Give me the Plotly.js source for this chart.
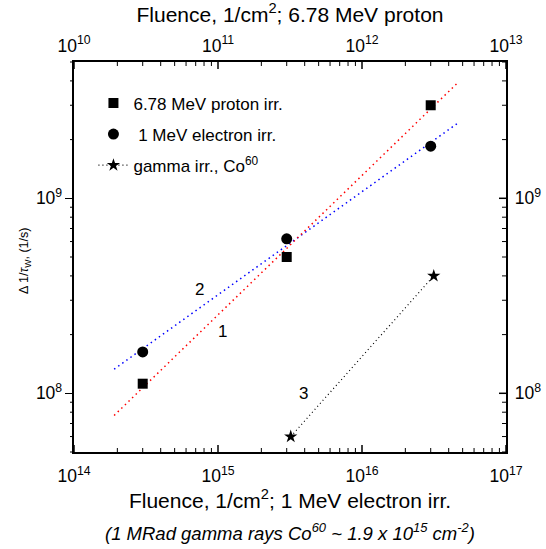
<!DOCTYPE html>
<html>
<head>
<meta charset="utf-8">
<script src="https://cdn.plot.ly/plotly-3.0.1.min.js"></script>
<style>html,body{margin:0;padding:0;background:#fff;}#chart{width:546px;height:549px;background:#fff;}</style>
</head>
<body>
<div id="chart"></div>
<script>
// ---- data ----
const protonFluence = [3e10, 3e11, 3e12];          // 1/cm^2 (top axis)
const protonRate = [1.12e8, 5.0e8, 3.0e9];          // 1/s
const electronFluence = [3e14, 3e15, 3e16];        // 1/cm^2 (bottom axis)
const electronRate = [1.63e8, 6.2e8, 1.85e9];
const gammaFluence = [3.2e15, 3.15e16];             // equivalent electron fluence
const gammaRate = [6.0e7, 4.0e8];
const fit1Fluence = [1.9e10, 4.6e12];               // proton fit (line 1)
const fit1Rate = [7.7e7, 3.9e9];
const fit2Fluence = [1.9e14, 4.7e16];               // electron fit (line 2)
const fit2Rate = [1.33e8, 2.45e9];
const yMin = 5e7, yMax = 5e9;
const xBottomDecades = [14, 15, 16, 17];
const xTopDecades = [10, 11, 12, 13];
const yDecades = [7, 8, 9];

const FONT = 'Liberation Sans, Arial, sans-serif';
const xBotRange = [14, 17], xTopRange = [10, 13];
const yRange = [Math.log10(yMin), Math.log10(yMax)];

// ---- tick decorations (the renderer does not show inward ticks, so they are drawn as shapes) ----
const PLOT_W = 546 - 74 - 40, PLOT_H = 549 - 62 - 97;
function tickValues(decades, range) {
  const major = [], minor = [];
  decades.forEach(d => {
    for (let m = 1; m <= 9; m++) {
      const v = m * Math.pow(10, d), lv = Math.log10(v);
      if (lv < range[0] - 1e-9 || lv > range[1] + 1e-9) continue;
      (m === 1 ? major : minor).push(v);
    }
  });
  return {major, minor};
}
function frac(v, range) { return (Math.log10(v) - range[0]) / (range[1] - range[0]); }
const shapes = [];
function addTick(x0, x1, y0, y1, w) {
  shapes.push({type: 'line', xref: 'paper', yref: 'paper', x0, x1, y0, y1, layer: 'above',
               line: {color: '#000', width: w}});
}
const MAJ = 7, MIN = 4;
[[xBottomDecades, xBotRange, 'bottom'], [xTopDecades, xTopRange, 'top']].forEach(([dec, rng, side]) => {
  const t = tickValues(dec, rng);
  const base = side === 'bottom' ? 0 : 1, dir = side === 'bottom' ? 1 : -1;
  t.major.forEach(v => { const f = frac(v, rng); addTick(f, f, base, base + dir * MAJ / PLOT_H, 1.5); });
  t.minor.forEach(v => { const f = frac(v, rng); addTick(f, f, base, base + dir * MIN / PLOT_H, 1); });
});
(function () {
  const t = tickValues(yDecades, yRange);
  // left: minor ticks outward (major ticks come from the axis itself)
  t.minor.forEach(v => { const f = frac(v, yRange); addTick(0, -MIN / PLOT_W, f, f, 1); });
  // right: all ticks inward
  t.major.forEach(v => { const f = frac(v, yRange); addTick(1, 1 - MAJ / PLOT_W, f, f, 1.5); });
  t.minor.forEach(v => { const f = frac(v, yRange); addTick(1, 1 - MIN / PLOT_W, f, f, 1); });
})();

const traces = [
  {x: fit1Fluence, y: fit1Rate, xaxis: 'x2', yaxis: 'y', mode: 'lines', showlegend: false,
   line: {color: '#ff0000', dash: '1.5px,3.5px', width: 1.5}, hoverinfo: 'skip'},
  {x: fit2Fluence, y: fit2Rate, xaxis: 'x', yaxis: 'y', mode: 'lines', showlegend: false,
   line: {color: '#0000ff', dash: '1.5px,3.5px', width: 1.5}, hoverinfo: 'skip'},
  {x: protonFluence, y: protonRate, xaxis: 'x2', yaxis: 'y', mode: 'markers', name: '6.78 MeV proton irr.',
   legendgroup: 'a', marker: {symbol: 'square', size: 10, color: '#000'}},
  {x: electronFluence, y: electronRate, xaxis: 'x', yaxis: 'y', mode: 'markers', name: '\u00a01 MeV electron irr.',
   legendgroup: 'b', marker: {symbol: 'circle', size: 11, color: '#000'}},
  {x: gammaFluence, y: gammaRate, xaxis: 'x', yaxis: 'y2', mode: 'lines+markers', name: 'gamma irr., Co<sup>60</sup>',
   legendgroup: 'c', line: {color: '#000', dash: '1px,3px', width: 1.2},
   marker: {symbol: 'star', size: 10, color: '#000'}}
];

function axisBase(extra) {
  return Object.assign({
    type: 'log', showline: true, linecolor: 'black', linewidth: 2, showgrid: false, zeroline: false,
    exponentformat: 'power', dtick: 1, tickfont: {family: FONT, size: 14, color: '#000'},
    ticks: '', mirror: false
  }, extra);
}

const layout = {
  width: 546, height: 549,
  margin: {l: 74, r: 40, t: 62, b: 97},
  paper_bgcolor: '#fff', plot_bgcolor: '#fff',
  font: {family: FONT, color: '#000'},
  xaxis: axisBase({
    range: xBotRange, side: 'bottom', anchor: 'y', ticklabelstandoff: 8,
    title: {text: 'Fluence, 1/cm<sup>2</sup>; 1 MeV electron irr.', font: {family: FONT, size: 21, color: '#000'}, standoff: 2}
  }),
  xaxis2: axisBase({
    range: xTopRange, side: 'top', anchor: 'y', overlaying: 'x', ticklabelstandoff: 2,
    title: {text: 'Fluence, 1/cm<sup>2</sup>; 6.78 MeV proton', font: {family: FONT, size: 21, color: '#000'}, standoff: 7}
  }),
  yaxis: axisBase({
    range: yRange, side: 'left', anchor: 'x', ticks: 'outside', ticklen: 7, tickwidth: 1.5, tickcolor: 'black'
  }),
  yaxis2: axisBase({
    range: yRange, side: 'right', anchor: 'x', overlaying: 'y', ticklabelstandoff: 4
  }),
  shapes: shapes,
  showlegend: true,
  legend: {
    x: 0.045, y: 0.94, xanchor: 'left', yanchor: 'top', bgcolor: 'rgba(0,0,0,0)',
    font: {family: FONT, size: 17, color: '#000'}, tracegroupgap: 6, itemwidth: 30
  },
  annotations: [
    {x: -0.113, y: 0.49, xref: 'paper', yref: 'paper', xanchor: 'center', yanchor: 'middle', textangle: -90,
     showarrow: false, text: '\u0394 1/<i>\u03c4</i><sub>W</sub>, (1/s)', font: {family: FONT, size: 12.5, color: '#000'}},
    {x: Math.log10(1.08e15), y: Math.log10(2.07e8), xref: 'x', yref: 'y', text: '1', showarrow: false,
     font: {family: FONT, size: 17, color: '#000'}},
    {x: Math.log10(7.4e14), y: Math.log10(3.41e8), xref: 'x', yref: 'y', text: '2', showarrow: false,
     font: {family: FONT, size: 17, color: '#000'}},
    {x: Math.log10(3.93e15), y: Math.log10(1.0e8), xref: 'x', yref: 'y', text: '3', showarrow: false,
     font: {family: FONT, size: 17, color: '#000'}},
    {x: 0.5, y: -0.204, xref: 'paper', yref: 'paper', yanchor: 'middle', showarrow: false,
     text: '<i>(1 MRad gamma rays Co<sup>60</sup> ~ 1.9 x 10<sup>15</sup> cm<sup>-2</sup>)</i>',
     font: {family: FONT, size: 18.5, color: '#000'}}
  ]
};

Plotly.newPlot('chart', traces, layout, {displayModeBar: false, staticPlot: true});
</script>
</body>
</html>
